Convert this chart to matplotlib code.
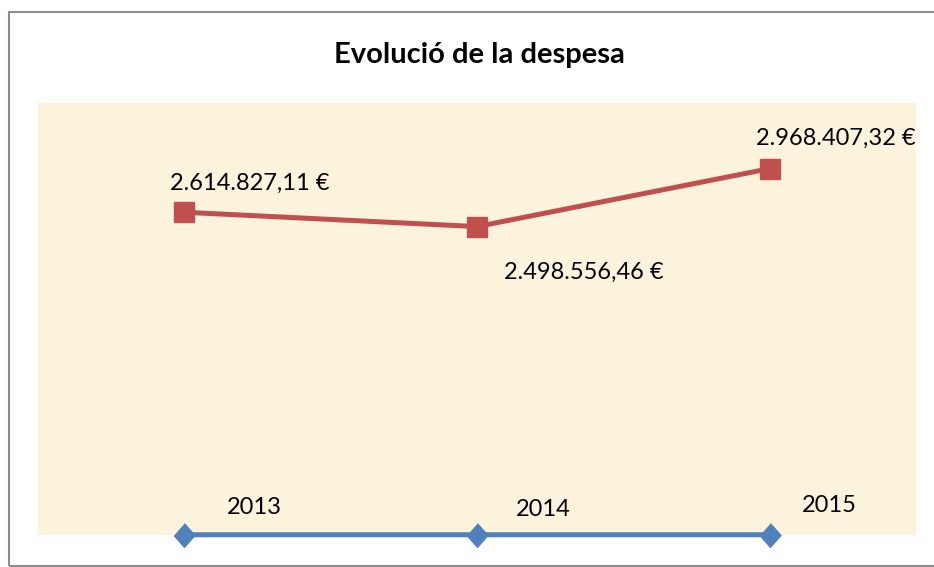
import matplotlib.pyplot as plt
from matplotlib.patches import Rectangle

# data
years = ['2013', '2014', '2015']
despesa = [2614827.11, 2498556.46, 2968407.32]
year_series = [2013, 2014, 2015]


def euro(v):
    s = f"{v:,.2f}".replace(',', 'X').replace('.', ',').replace('X', '.')
    return s + ' €'


plt.rcParams['font.family'] = ['Lato', 'DejaVu Sans']

fig = plt.figure(figsize=(9.34, 5.67), dpi=100)

# chart border
fig.patches.append(Rectangle((9 / 934, 1.5 / 567), 1.2, 554 / 567, transform=fig.transFigure,
                             fill=False, edgecolor='#8c8c8c', linewidth=1.5))

ax = fig.add_axes([38 / 934, 1 - 535 / 567, 878 / 934, 432 / 567])
ax.set_facecolor('#fcf3dd')
for s in ax.spines.values():
    s.set_visible(False)
ax.set_xticks([])
ax.set_yticks([])
x = range(len(years))
ax.set_xlim(-0.5, len(years) - 0.5)
ax.set_ylim(0, 3.5e6)

ax.plot(x, despesa, color='#c0504d', lw=3.6, marker='s', ms=14, clip_on=False)
ax.plot(x, year_series, color='#4f81bd', lw=3.6, marker=[(0, 1), (0.88, 0), (0, -1), (-0.88, 0)],
        ms=17, clip_on=False)

# data labels
red_offsets = [(65, 29), (107, -46), (66, 30)]
for i, v in enumerate(despesa):
    ax.annotate(euro(v), (i, v), xytext=red_offsets[i], textcoords='offset pixels',
                ha='center', va='center', fontsize=17)
blue_offsets = [(70, 27), (66, 25), (60, 29)]
for i, v in enumerate(year_series):
    ax.annotate(str(v), (i, v), xytext=blue_offsets[i], textcoords='offset pixels',
                ha='center', va='center', fontsize=17)

fig.text(479 / 934, 1 - 55 / 567, 'Evolució de la despesa', ha='center', va='center',
         fontsize=21, fontweight='bold')

fig.savefig('out.png', dpi=100)
